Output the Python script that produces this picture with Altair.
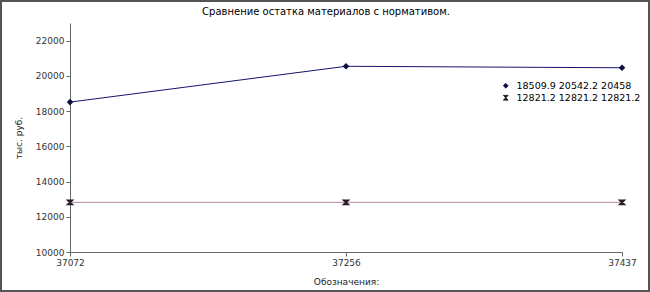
import altair as alt
import pandas as pd

title_text = "Сравнение остатка материалов с нормативом."
categories = ["37072", "37256", "37437"]
series_names = ["18509.9 20542.2 20458", "12821.2 12821.2 12821.2"]
series1 = [18509.9, 20542.2, 20458]
series2 = [12821.2, 12821.2, 12821.2]

rows = []
for c, v in zip(categories, series1):
    rows.append({"cat": c, "val": v, "series": series_names[0]})
for c, v in zip(categories, series2):
    rows.append({"cat": c, "val": v, "series": series_names[1]})
df = pd.DataFrame(rows)

hourglass = "M-1,-1L1,-1L-1,1L1,1Z"
line_colors = ["#14146e", "#b98a9c"]
point_colors = ["#0d0d40", "#2a1a2a"]

x_enc = alt.X("cat:O", sort=categories,
              scale=alt.Scale(paddingOuter=0, paddingInner=0, padding=0),
              axis=alt.Axis(title="Обозначения:", labelAngle=0, titlePadding=10))
y_enc = alt.Y("val:Q", scale=alt.Scale(domain=[10000, 23000], nice=False),
              axis=alt.Axis(title="тыс. руб.", values=[10000, 12000, 14000, 16000, 18000, 20000, 22000],
                            titlePadding=12, format="d"))

lines = alt.Chart(df).mark_line(strokeWidth=1).encode(
    x=x_enc, y=y_enc,
    color=alt.Color("series:N", scale=alt.Scale(domain=series_names, range=line_colors), legend=None),
    detail="series:N",
)

points = alt.Chart(df).mark_point(filled=True, size=14, opacity=1).encode(
    x=x_enc, y=y_enc,
    shape=alt.Shape("series:N", scale=alt.Scale(domain=series_names, range=["diamond", hourglass]),
                    legend=alt.Legend(title=None, orient="none", legendX=431, legendY=58,
                                      labelFontSize=9.5, labelColor="#000000", symbolSize=22,
                                      rowPadding=1, labelOffset=6, symbolStrokeWidth=1,
                                      symbolFillColor="#0d0d40")),
    fill=alt.Fill("series:N", scale=alt.Scale(domain=series_names, range=point_colors), legend=None),
    stroke=alt.Stroke("series:N", scale=alt.Scale(domain=series_names, range=point_colors), legend=None),
)

border = alt.Chart(df).mark_rect(fill=None, stroke="#555555", strokeWidth=2, clip=False).encode(
    x=alt.value(-69), x2=alt.value(579), y=alt.value(-22), y2=alt.value(268)
)

title = alt.Chart(pd.DataFrame({"t": [title_text]})).mark_text(
    fontSize=10, font="DejaVu Sans", color="#000000", align="center", baseline="middle"
).encode(text="t:N", x=alt.value(256), y=alt.value(-11))

chart = alt.layer(border, lines, points, title).properties(
    width=552, height=229,
    autosize=alt.AutoSizeParams(type="none"),
    padding={"left": 70, "top": 23, "right": 28, "bottom": 40},
).resolve_scale(color="independent").configure_view(stroke=None).configure_axis(
    labelFont="DejaVu Sans", titleFont="DejaVu Sans", labelFontSize=9, titleFontSize=9,
    labelColor="#333333", titleColor="#222222", titleFontWeight="normal",
    domainColor="#666666", tickColor="#666666", grid=False, tickSize=4,
).configure_legend(labelFont="DejaVu Sans")

chart.save("out.html", embed_options={"renderer": "svg", "actions": False})
